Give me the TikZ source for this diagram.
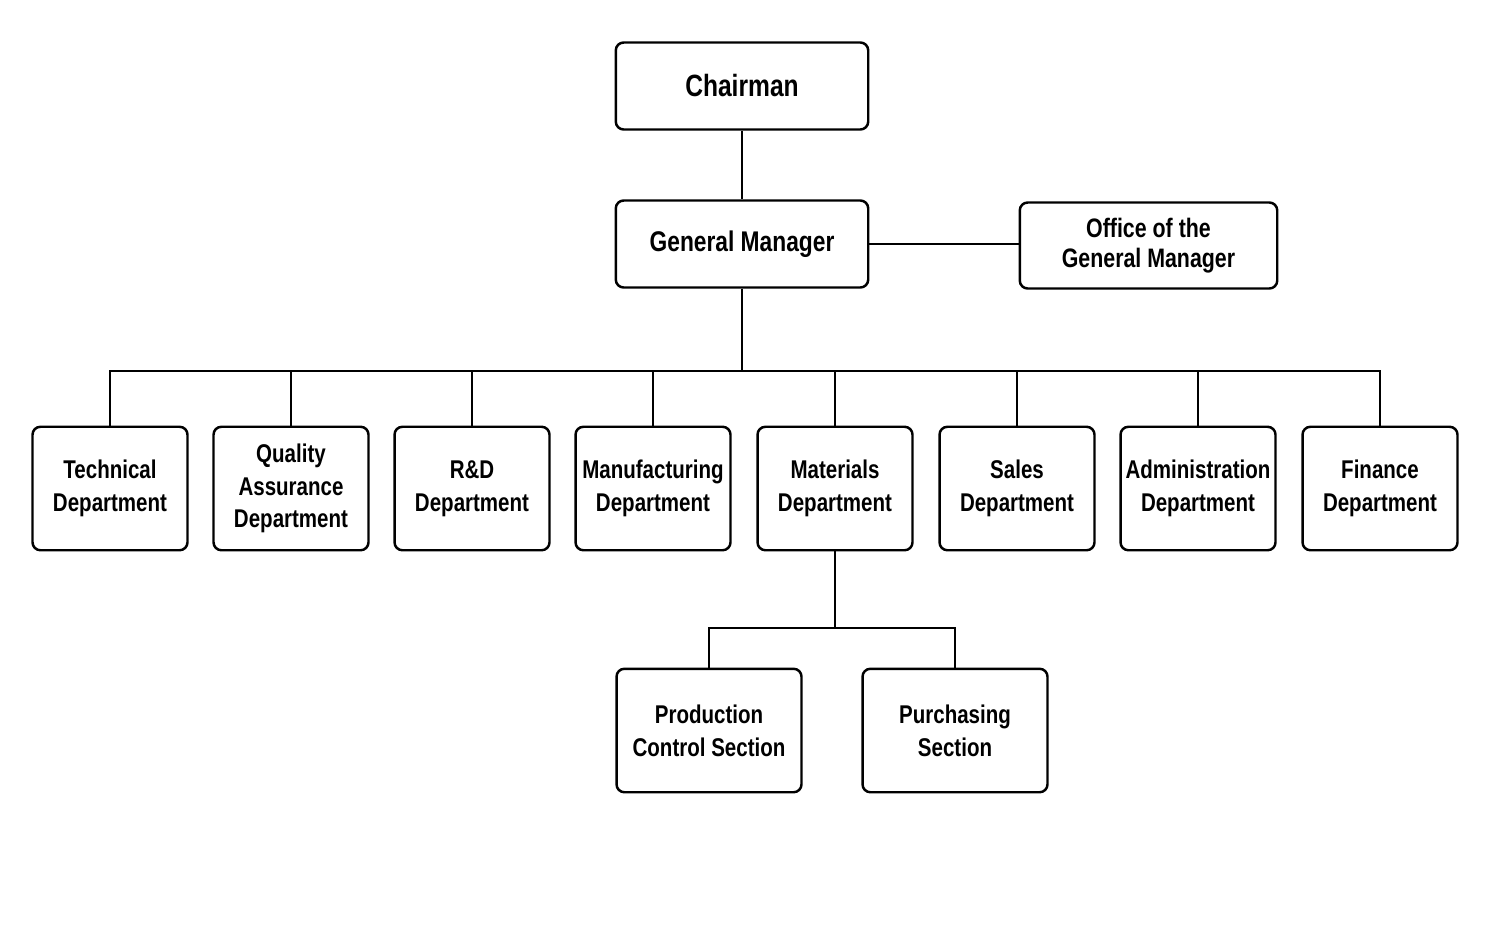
\documentclass[tikz,border=0pt]{standalone}
\usepackage{fontspec}
\setmainfont{Liberation Sans}[FakeStretch=0.8]
\usetikzlibrary{positioning}

\tikzset{
  unit/.style={draw, line width=1.4pt, rounded corners=4.5pt, fill=white, align=center,
    inner sep=0pt, font=\bfseries\fontsize{14.6}{18.7}\selectfont},
  dept/.style={unit, minimum width=3.1cm, minimum height=2.47cm},
  link/.style={line width=1.4pt}
}

\begin{document}
\begin{tikzpicture}[x={(0.02cm,0cm)}, y={(0cm,-0.02cm)}]

 \useasboundingbox (0,0) rectangle (1490,950);

 %%%%%%%%%% Top of the chart %%%%%%%%%%
 \node[unit, minimum width=5.05cm, minimum height=1.74cm, font=\bfseries\fontsize{17.5}{20}\selectfont] (chair) at (742,86) {Chairman};
 \node[unit, minimum width=5.05cm, minimum height=1.74cm, font=\bfseries\fontsize{16.2}{19}\selectfont] (gm) at (742,244) {General Manager};
 \node[unit, minimum width=5.15cm, minimum height=1.72cm, font=\bfseries\fontsize{15.2}{17}\selectfont] (office) at (1148.5,245.5) {Office of the\\General Manager};

 %%%%%%%%%% Departments %%%%%%%%%%
 \coordinate (bus) at (0,371);
 \node[dept] (tech)  at (110,488.5)  {Technical\\Department};
 \node[dept] (qual)  at (291,488.5)  {Quality\\Assurance\\Department};
 \node[dept] (rnd)   at (472,488.5)  {R\&D\\Department};
 \node[dept] (manu)  at (653,488.5)  {Manufacturing\\Department};
 \node[dept] (mat)   at (835,488.5)  {Materials\\Department};
 \node[dept] (sales) at (1017,488.5) {Sales\\Department};
 \node[dept] (admin) at (1198,488.5) {Administration\\Department};
 \node[dept] (fin)   at (1380,488.5) {Finance\\Department};

 %%%%%%%%%% Sections %%%%%%%%%%
 \coordinate (sub) at (0,628);
 \node[dept, minimum width=3.7cm] (prod)  at (709,730.5) {Production\\Control Section};
 \node[dept, minimum width=3.7cm] (purch) at (955,730.5) {Purchasing\\Section};

 % Links
 \draw[link] (chair) -- (gm);
 \draw[link] (gm.east) -- (gm.east -| office.west);
 \draw[link] (gm.south) -- (gm |- bus);
 \draw[link] (tech.north) -- (tech |- bus) -- (fin |- bus) -- (fin.north);
 \foreach \d in {qual, rnd, manu, mat, sales, admin}
   \draw[link] (\d.north) -- (\d |- bus);
 \draw[link] (mat.south) -- (mat |- sub);
 \draw[link] (prod.north) -- (prod |- sub) -- (purch |- sub) -- (purch.north);

\end{tikzpicture}
\end{document}
